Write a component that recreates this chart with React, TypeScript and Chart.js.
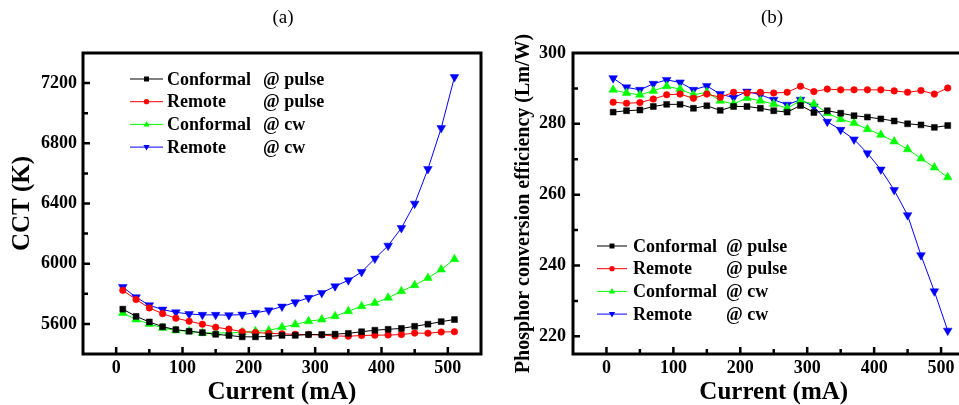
import React, { useEffect, useRef } from 'react';
import { Chart, registerables } from 'chart.js';

Chart.register(...registerables);

const CURRENT = [10, 30, 50, 70, 90, 110, 130, 150, 170, 190, 210, 230, 250, 270, 290, 310, 330, 350, 370, 390, 410, 430, 450, 470, 490, 510];

const CCT_CONFORMAL_PULSE = [5698, 5650, 5613, 5581, 5562, 5551, 5542, 5531, 5523, 5514, 5514, 5517, 5524, 5524, 5529, 5529, 5532, 5537, 5548, 5558, 5564, 5570, 5584, 5598, 5615, 5629];
const CCT_REMOTE_PULSE = [5823, 5762, 5706, 5668, 5638, 5618, 5598, 5578, 5565, 5548, 5543, 5537, 5534, 5531, 5529, 5526, 5520, 5518, 5523, 5525, 5526, 5529, 5539, 5538, 5546, 5548];
const CCT_CONFORMAL_CW = [5673, 5629, 5600, 5573, 5556, 5551, 5540, 5540, 5540, 5545, 5551, 5556, 5578, 5596, 5618, 5629, 5651, 5684, 5717, 5739, 5773, 5817, 5857, 5905, 5961, 6030];
const CCT_REMOTE_CW = [5845, 5777, 5724, 5695, 5677, 5666, 5660, 5660, 5658, 5662, 5673, 5690, 5715, 5744, 5773, 5806, 5850, 5890, 5945, 6034, 6120, 6237, 6399, 6629, 6901, 7240];

const PCE_CONFORMAL_PULSE = [283.3, 283.7, 283.9, 284.9, 285.5, 285.5, 284.4, 285.1, 283.8, 284.9, 284.9, 284.4, 283.7, 283.3, 285.2, 283.2, 283.7, 283.0, 282.3, 281.9, 281.4, 280.8, 280.0, 279.7, 279.0, 279.5];
const PCE_REMOTE_PULSE = [286.1, 285.8, 286.0, 287.0, 288.2, 288.4, 287.2, 288.4, 287.5, 288.9, 288.7, 288.9, 288.7, 288.9, 290.6, 289.1, 289.8, 289.6, 289.6, 289.6, 289.6, 289.3, 288.9, 289.4, 288.4, 290.1];
const PCE_CONFORMAL_CW = [289.6, 288.7, 288.2, 289.3, 290.6, 289.8, 288.2, 288.9, 286.5, 285.6, 287.3, 286.5, 285.6, 284.4, 286.5, 285.6, 283.0, 281.3, 280.2, 278.5, 276.9, 275.0, 272.8, 270.2, 267.7, 264.9];
const PCE_REMOTE_CW = [292.9, 290.3, 289.6, 291.3, 292.4, 291.7, 289.6, 290.7, 288.4, 287.4, 289.1, 288.2, 286.8, 285.4, 286.8, 284.9, 280.6, 278.3, 275.6, 271.7, 267.1, 261.3, 254.2, 242.9, 232.7, 221.6];

const LEGEND_NAMES = ['Conformal', 'Remote', 'Conformal', 'Remote'];
const LEGEND_MODES = ['@ pulse', '@ pulse', '@ cw', '@ cw'];

const X_TICKS = [0, 100, 200, 300, 400, 500];
const X_MINOR = [0, 50, 100, 150, 200, 250, 300, 350, 400, 450, 500];
const CCT_TICKS = [5600, 6000, 6400, 6800, 7200];
const CCT_MINOR = [5600, 5800, 6000, 6200, 6400, 6600, 6800, 7000, 7200];
const PCE_TICKS = [220, 240, 260, 280, 300];
const PCE_MINOR = [220, 230, 240, 250, 260, 270, 280, 290];

const COLORS = ['#000000', '#ff0000', '#00ff00', '#0000ff'];
const STYLES = ['rect', 'circle', 'triangle', 'triangle'];
const ROTS = [0, 0, 0, 180];
const RADII = [4.2, 3.3, 5, 5];

const FONT = "'Liberation Serif', 'Times New Roman', serif";

function drawMarker(ctx: CanvasRenderingContext2D, i: number, x: number, y: number, s: number) {
  ctx.fillStyle = COLORS[i];
  ctx.beginPath();
  if (i === 0) {
    ctx.rect(x - s * 0.75, y - s * 0.75, s * 1.5, s * 1.5);
  } else if (i === 1) {
    ctx.arc(x, y, s * 0.8, 0, Math.PI * 2);
  } else if (i === 2) {
    ctx.moveTo(x, y - s);
    ctx.lineTo(x + s * 0.95, y + s * 0.6);
    ctx.lineTo(x - s * 0.95, y + s * 0.6);
    ctx.closePath();
  } else {
    ctx.moveTo(x, y + s);
    ctx.lineTo(x + s * 0.95, y - s * 0.6);
    ctx.lineTo(x - s * 0.95, y - s * 0.6);
    ctx.closePath();
  }
  ctx.fill();
}

type Cfg = {
  title: string;
  titleX: number;
  xMinor: number[];
  xMajor: number[];
  yMinor: number[];
  yMajor: number[];
  legend: { x1: number; x2: number; mx: number; tx: number; ax: number; y0: number; dy: number };
};

function makePlugin(cfg: Cfg) {
  return {
    id: 'frameTicks',
    afterDraw(chart: any) {
      const { ctx, chartArea: a, scales } = chart;
      ctx.save();
      ctx.strokeStyle = '#000';
      ctx.lineWidth = 2.5;
      ctx.beginPath();
      for (const v of cfg.xMinor) {
        const px = scales.x.getPixelForValue(v);
        const len = cfg.xMajor.includes(v) ? 7 : 5;
        ctx.moveTo(px, a.bottom);
        ctx.lineTo(px, a.bottom - len);
      }
      for (const v of cfg.yMinor) {
        const py = scales.y.getPixelForValue(v);
        const len = cfg.yMajor.includes(v) ? 7 : 5;
        ctx.moveTo(a.left, py);
        ctx.lineTo(a.left + len, py);
      }
      ctx.stroke();
      ctx.lineWidth = 3;
      ctx.strokeRect(a.left, a.top, a.right - a.left, a.bottom - a.top);

      // title
      ctx.fillStyle = '#000';
      ctx.font = `19px ${FONT}`;
      ctx.textAlign = 'center';
      ctx.textBaseline = 'middle';
      ctx.fillText(cfg.title, cfg.titleX, 18);

      // legend
      const L = cfg.legend;
      ctx.font = `bold 18px ${FONT}`;
      ctx.textAlign = 'left';
      for (let i = 0; i < 4; i++) {
        const y = L.y0 + i * L.dy;
        ctx.strokeStyle = COLORS[i];
        ctx.lineWidth = 1;
        ctx.beginPath();
        ctx.moveTo(L.x1, y);
        ctx.lineTo(L.x2, y);
        ctx.stroke();
        drawMarker(ctx, i, L.mx, y, 3.3);
        ctx.fillStyle = '#000';
        ctx.fillText(LEGEND_NAMES[i], L.tx, y + 1);
        ctx.fillText(LEGEND_MODES[i], L.ax, y + 1);
      }
      ctx.restore();
    },
  };
}

function buildDatasets(series: number[][]) {
  return series.map((vals, i) => ({
    label: LEGEND_NAMES[i] + ' ' + LEGEND_MODES[i],
    data: CURRENT.map((c, k) => ({ x: c, y: vals[k] })),
    borderColor: COLORS[i],
    backgroundColor: COLORS[i],
    borderWidth: 1,
    pointStyle: STYLES[i],
    pointRotation: ROTS[i],
    pointRadius: RADII[i],
    pointBackgroundColor: COLORS[i],
    pointBorderColor: COLORS[i],
    pointBorderWidth: 0.5,
    tension: 0,
  }));
}

function makeOptions(o: {
  yMin: number; yMax: number; yTicks: number[]; yTitle: string; yTitleSize: number; yTitlePad: number;
  yWidth: number; yPad: number; padRight: number;
}) {
  return {
    responsive: false,
    animation: false,
    layout: { padding: { top: 53, left: 0, right: o.padRight, bottom: 0 } },
    plugins: { legend: { display: false }, tooltip: { enabled: false }, title: { display: false } },
    scales: {
      x: {
        type: 'linear',
        min: -50,
        max: 550,
        afterFit: (s: any) => { s.height = 51; },
        afterBuildTicks: (s: any) => { s.ticks = X_TICKS.map((v) => ({ value: v })); },
        grid: { display: false, drawTicks: false },
        border: { display: false },
        ticks: {
          color: '#000', padding: 4, font: { family: FONT, size: 18, weight: 'bold' }, maxRotation: 0,
          callback: (v: any) => String(v),
        },
        title: {
          display: true,
          text: 'Current (mA)',
          color: '#000',
          font: { family: FONT, size: 25, weight: 'bold', lineHeight: 1 },
          padding: { top: 0, bottom: 0 },
        },
      },
      y: {
        type: 'linear',
        min: o.yMin,
        max: o.yMax,
        afterFit: (s: any) => { s.width = o.yWidth; },
        afterBuildTicks: (s: any) => { s.ticks = o.yTicks.map((v) => ({ value: v })); },
        grid: { display: false, drawTicks: false },
        border: { display: false },
        ticks: {
          color: '#000', padding: o.yPad, font: { family: FONT, size: 18, weight: 'bold' },
          callback: (v: any) => String(v),
        },
        title: {
          display: true,
          text: o.yTitle,
          color: '#000',
          font: { family: FONT, size: o.yTitleSize, weight: 'bold', lineHeight: 1 },
          padding: { top: o.yTitlePad, bottom: 0 },
        },
      },
    },
  };
}

export default function App() {
  const leftRef = useRef<HTMLCanvasElement>(null);
  const rightRef = useRef<HTMLCanvasElement>(null);

  useEffect(() => {
    const left = new Chart(leftRef.current as HTMLCanvasElement, {
      type: 'line',
      data: { datasets: buildDatasets([CCT_CONFORMAL_PULSE, CCT_REMOTE_PULSE, CCT_CONFORMAL_CW, CCT_REMOTE_CW]) as any },
      options: makeOptions({
        yMin: 5400, yMax: 7400, yTicks: CCT_TICKS, yTitle: 'CCT (K)', yTitleSize: 25, yTitlePad: 10.5,
        yWidth: 83, yPad: 6, padRight: 9,
      }) as any,
      plugins: [makePlugin({
        title: '(a)', titleX: 283,
        xMinor: X_MINOR, xMajor: X_TICKS, yMinor: CCT_MINOR, yMajor: CCT_TICKS,
        legend: { x1: 130, x2: 163, mx: 146.5, tx: 167, ax: 263, y0: 79, dy: 22.7 },
      })],
    });
    const right = new Chart(rightRef.current as HTMLCanvasElement, {
      type: 'line',
      data: { datasets: buildDatasets([PCE_CONFORMAL_PULSE, PCE_REMOTE_PULSE, PCE_CONFORMAL_CW, PCE_REMOTE_CW]) as any },
      options: makeOptions({
        yMin: 215, yMax: 300, yTicks: PCE_TICKS, yTitle: 'Phosphor conversion efficiency (Lm/W)', yTitleSize: 20, yTitlePad: 34,
        yWidth: 93, yPad: 7, padRight: 3,
      }) as any,
      plugins: [makePlugin({
        title: '(b)', titleX: 292,
        xMinor: X_MINOR, xMajor: X_TICKS, yMinor: PCE_MINOR, yMajor: PCE_TICKS,
        legend: { x1: 117, x2: 147, mx: 132, tx: 153, ax: 246, y0: 246, dy: 22.7 },
      })],
    });
    return () => {
      left.destroy();
      right.destroy();
    };
  }, []);

  return (
    <div style={{ position: 'fixed', left: 0, top: 0, width: 959, height: 405, overflow: 'hidden', background: '#fff' }}>
      <div style={{ position: 'absolute', left: 0, top: 0, width: 490, height: 405 }}>
        <canvas ref={leftRef} width={490} height={405} style={{ display: 'block' }} />
      </div>
      <div style={{ position: 'absolute', left: 480, top: 0, width: 500, height: 405 }}>
        <canvas ref={rightRef} width={500} height={405} style={{ display: 'block' }} />
      </div>
    </div>
  );
}
